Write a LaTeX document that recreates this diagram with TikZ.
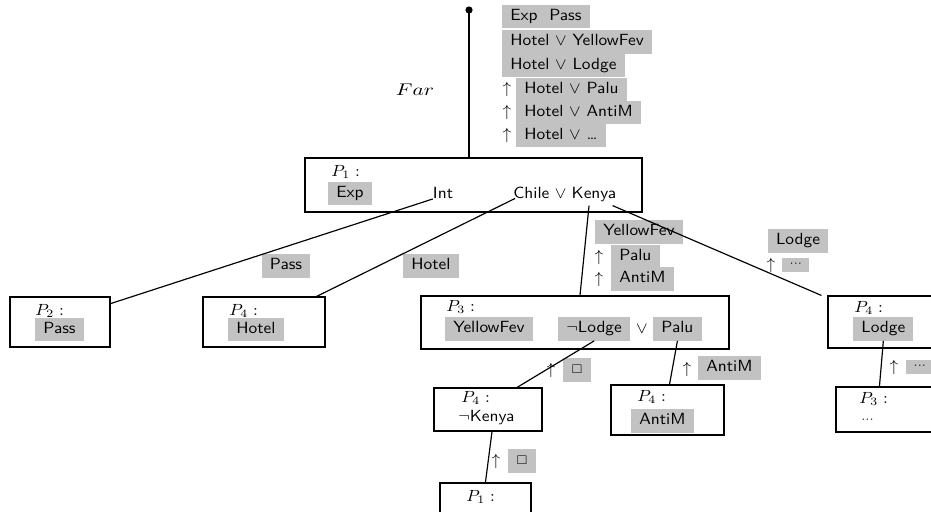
\documentclass[tikz,border=0pt]{standalone}
\usepackage{graphicx}
\usepackage{amssymb}
\usetikzlibrary{calc,fit}
\definecolor{lblgray}{RGB}{194,194,194}
\newcommand\T[1]{\scalebox{1.18}[1.1]{#1}}
\tikzset{
  hl/.style={fill=lblgray, inner xsep=5.5pt, inner ysep=3pt, text height=7.6pt, text depth=2.2pt, font=\sffamily},
  hlsm/.style={fill=lblgray, inner xsep=5pt, inner ysep=2.5pt, text height=3pt, text depth=1pt, font=\sffamily},
  txt/.style={inner sep=0pt, font=\sffamily},
  pbox/.style={draw, line width=0.75pt, inner sep=0pt},
  conn/.style={line width=0.8pt},
}
\begin{document}
\begin{tikzpicture}[x=0.68pt,y=-0.68pt]
\path[use as bounding box] (0,0) rectangle (931,511);
\clip (0,0) rectangle (931,511);

% boxes
\node[pbox, fit={(305,158)(642,212)}] (b1) {};
\node[pbox, fit={(10,297)(110,347)}] (b2) {};
\node[pbox, fit={(203,297)(325,347)}] (b4a) {};
\node[pbox, fit={(421,296)(729,349)}] (b3) {};
\node[pbox, fit={(828,296)(945,348)}] (b4b) {};
\node[pbox, fit={(434,388)(542,431)}] (b4c) {};
\node[pbox, fit={(611,385)(724,435)}] (b4d) {};
\node[pbox, fit={(440,483)(531,525)}] (b1b) {};
\node[pbox, fit={(836,387)(945,432)}] (b3b) {};

% root
\coordinate (root) at (469,10);
\fill (root) circle (3.6);
\node[txt] (far) at (415,90) {\scalebox{1.45}[1.15]{$Far$}};

% top label stack
\node[hl, anchor=west] (t1) at (502,16.5) {\T{Exp~~Pass}};
\node[hl, anchor=west] (t2) at (502,42) {\T{Hotel $\vee$ YellowFev}};
\node[hl, anchor=west] (t3) at (502,65.5) {\T{Hotel $\vee$ Lodge}};
\node[txt] (a4) at (507,89.5) {\T{$\uparrow$}};
\node[hl, anchor=west] (t4) at (516,89.5) {\T{Hotel $\vee$ Palu}};
\node[txt] (a5) at (507,112.5) {\T{$\uparrow$}};
\node[hl, anchor=west] (t5) at (516,112.5) {\T{Hotel $\vee$ AntiM}};
\node[txt] (a6) at (507,135.5) {\T{$\uparrow$}};
\node[hl, anchor=west] (t6) at (516,135.5) {\T{Hotel $\vee$ \ldots}};

% P1 content
\node[txt, anchor=west] (p1) at (331,172) {\T{$P_1:$}};
\node[hl, anchor=west] (exp) at (328,193.5) {\T{Exp}};
\node[txt] (int) at (443,193) {\T{Int}};
\node[txt, anchor=base west] (chile) at (513,198) {\T{Chile}};
\node[txt, anchor=base west] (vee1) at (chile.base east) {\T{$\;\vee\;$}};
\node[txt, anchor=base west] (kenya) at (vee1.base east) {\T{Kenya}};

% P2
\node[txt, anchor=west] (p2) at (35,311) {\T{$P_2:$}};
\node[hl, anchor=west] (pass2) at (35,329.5) {\T{Pass}};
% P4 hotel
\node[txt, anchor=west] (p4a) at (229,311) {\T{$P_4:$}};
\node[hl, anchor=west] (hotel4) at (228,329.5) {\T{Hotel}};
% P3
\node[txt, anchor=west] (p3) at (446,307) {\T{$P_3:$}};
\node[hl, anchor=west] (yf3) at (445,329) {\T{YellowFev}};
\node[hl, anchor=west] (lodge3) at (558,329) {\T{$\neg$Lodge}};
\node[txt] (vee3) at (642,329) {\T{$\vee$}};
\node[hl, anchor=west] (palu3) at (653,329) {\T{Palu}};
% P4 lodge (right)
\node[txt, anchor=west] (p4b) at (854,308) {\T{$P_4:$}};
\node[hl, anchor=west] (lodge4) at (853,329) {\T{Lodge}};
% P4 not kenya
\node[txt, anchor=west] (p4c) at (461,398) {\T{$P_4:$}};
\node[txt, anchor=west] (nk) at (458,418) {\T{$\neg$Kenya}};
% P4 antim
\node[txt, anchor=west] (p4d) at (637,397) {\T{$P_4:$}};
\node[hl, anchor=west] (antim4) at (631,421) {\T{AntiM}};
% P1 bottom
\node[txt, anchor=west] (p1b) at (466,497) {\T{$P_1:$}};
% P3 bottom right
\node[txt, anchor=west] (p3b) at (859,399) {\T{$P_3:$}};
\node[txt, anchor=west] (dots3) at (861,420) {\T{$\scriptstyle\cdots$}};

% edge labels
\node[hl] (lpass) at (286,266) {\T{Pass}};
\node[hl] (lhotel) at (431,266) {\T{Hotel}};
\node[hl, anchor=west] (lyf) at (595,232) {\T{YellowFev}};
\node[txt] (ua1) at (599,257) {\T{$\uparrow$}};
\node[hl, anchor=west] (lpalu) at (611,257) {\T{Palu}};
\node[txt] (ua2) at (599,279) {\T{$\uparrow$}};
\node[hl, anchor=west] (lantim) at (611,279) {\T{AntiM}};
\node[hl] (llodge) at (798,241) {\T{Lodge}};
\node[txt] (ua3) at (771,265) {\T{$\uparrow$}};
\node[hlsm, anchor=west] (ldots1) at (782,265) {\T{$\scriptstyle\cdots$}};
\node[txt] (ua4) at (551,370) {\T{$\uparrow$}};
\node[hl] (lbox1) at (577,370) {\T{$\scriptstyle\square$}};
\node[txt] (ua5) at (687,369) {\T{$\uparrow$}};
\node[hl, anchor=west] (lantim2) at (698,368) {\T{AntiM}};
\node[txt] (ua6) at (894,367) {\T{$\uparrow$}};
\node[hlsm, anchor=west] (ldots2) at (906,367) {\T{$\scriptstyle\cdots$}};
\node[txt] (ua7) at (496,461) {\T{$\uparrow$}};
\node[hl] (lbox2) at (522,461) {\T{$\scriptstyle\square$}};

% connectors (drawn over the labels)
\draw[conn] (root) -- (b1.north -| root);
\draw[conn] (int.south west) -- (b2.20);
\draw[conn] ($(chile.south west)+(2,0)$) -- ($(b4a.north east)+(-9,0)$);
\draw[conn] ($(kenya.south)+(-5,4)$) -- ($(b3.north)+(5,0)$);
\draw[conn] ($(kenya.south east)+(-4,4)$) -- ($(b4b.north west)+(-6,0)$);
\draw[conn] (lodge3.south) -- ($(b4c.north)+(29,0)$);
\draw[conn] (palu3.south) -- ($(b4d.north)+(2,0)$);
\draw[conn] (lodge4.south) -- ($(b3b.north west)+(44,0)$);
\draw[conn] ($(b4c.south)+(4,0)$) -- ($(b1b.north west)+(46,0)$);
\end{tikzpicture}
\end{document}
